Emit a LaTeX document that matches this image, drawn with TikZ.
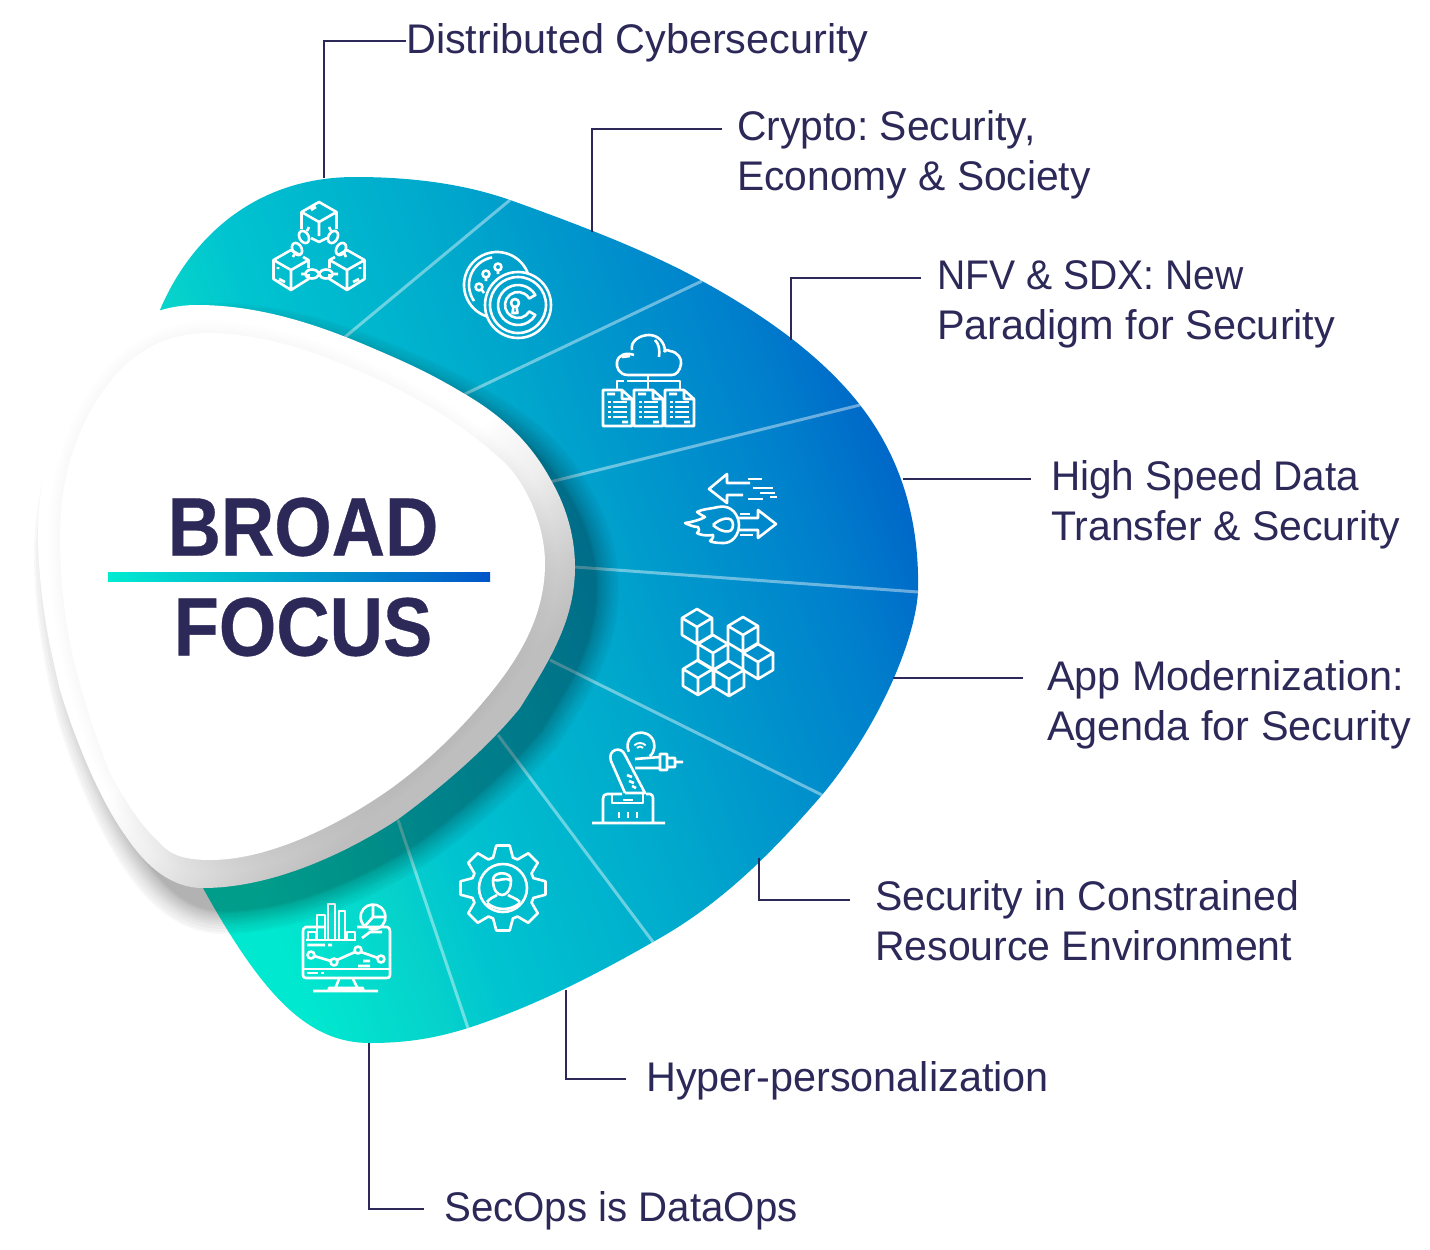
\documentclass[tikz,border=0pt]{standalone}
\usepackage{fontspec}
\frenchspacing
\setmainfont{Liberation Sans}
\newfontfamily\titlefont{Liberation Sans}[FakeStretch=0.89, FakeBold=0.4]
\newcommand{\narrowed}[2]{{\addfontfeature{FakeStretch=#1}#2}}
\definecolor{navy}{HTML}{2C2959}
\definecolor{petala}{HTML}{00E8D0}
\definecolor{petalb}{HTML}{06D2CB}
\definecolor{petalc}{HTML}{00C4D0}
\definecolor{petald}{HTML}{00A8CC}
\definecolor{petale}{HTML}{0080CC}
\definecolor{petalf}{HTML}{0064C8}
\definecolor{rima}{HTML}{EEEEEE}
\definecolor{rimb}{HTML}{CFCFCF}
\definecolor{rimc}{HTML}{BEBEBE}
\definecolor{bara}{HTML}{00EBD0}
\definecolor{barb}{HTML}{00A8CC}
\definecolor{barc}{HTML}{0055C8}
\pgfdeclarehorizontalshading{petalfill}{100bp}{color(0bp)=(petala); color(32.7bp)=(petala); color(36.8bp)=(petalb); color(39.1bp)=(petalc); color(46.2bp)=(petald); color(54.1bp)=(petale); color(58bp)=(petalf); color(100bp)=(petalf)}
\pgfdeclarehorizontalshading{rimfill}{100bp}{color(0bp)=(white); color(50.1bp)=(white); color(54.75bp)=(rima); color(59.5bp)=(rimb); color(62.6bp)=(rimc); color(100bp)=(rimc)}
\tikzstyle{lbl} = [anchor=west, inner sep=0pt, align=left, text=navy, font=\fontsize{41.4}{50}\selectfont]
\tikzstyle{title} = [inner sep=0pt, text=navy, font=\titlefont\bfseries\fontsize{83}{90}\selectfont]
\tikzstyle{link} = [draw=navy, line width=1.6pt]
\tikzstyle{seam} = [draw=white, opacity=0.42, line width=3pt]
\tikzstyle{icon} = [draw=white, line width=2.6pt, line join=round]
\def\petalpath{(160,310) .. controls (185,250) and (245,177) .. (355,177) .. controls (420,177) and (470,186) .. (510,200) .. controls (580,225) and (650,252) .. (702,281) .. controls (770,318) and (825,360) .. (860,405) .. controls (895,450) and (920,510) .. (918,592) .. controls (915,640) and (880,725) .. (822,795) .. controls (770,855) and (720,905) .. (653,942) .. controls (590,978) and (530,1008) .. (468,1028) .. controls (430,1040) and (400,1043) .. (370,1043) .. controls (310,1043) and (265,1000) .. (203,888) -- (300,600) -- cycle}
\def\rimpath{(197,305) .. controls (260,305) and (320,325) .. (377,350) .. controls (410,364) and (435,376) .. (463,393) .. controls (510,420) and (535,450) .. (552,482) .. controls (568,510) and (575,540) .. (575,567) .. controls (575,620) and (550,660) .. (520,708) .. controls (490,745) and (445,785) .. (397,820) .. controls (335,860) and (265,888) .. (203,888) .. controls (170,888) and (145,865) .. (125,835) .. controls (100,800) and (75,740) .. (60,690) .. controls (45,630) and (38,580) .. (38,530) .. controls (40,430) and (90,305) .. (197,305) -- cycle}
\def\facepath{(207,333) .. controls (250,333) and (300,346) .. (340,363) .. controls (400,387) and (460,420) .. (507,465) .. controls (530,490) and (545,530) .. (545,563) .. controls (545,610) and (525,650) .. (493,690) .. controls (465,725) and (430,760) .. (393,787) .. controls (350,818) and (275,860) .. (210,860) .. controls (185,860) and (170,855) .. (160,843) .. controls (140,825) and (125,800) .. (110,773) .. controls (95,735) and (82,695) .. (73,657) .. controls (65,620) and (60,580) .. (60,537) .. controls (60,480) and (75,420) .. (120,370) .. controls (145,345) and (175,333) .. (207,333) -- cycle}
\begin{document}
\begin{tikzpicture}[x=1pt, y=-1pt]
	\useasboundingbox (0,0) rectangle (1430,1250);
	% petals
	\begin{scope}
		\clip \petalpath;
		\shade [shading=petalfill, shading angle=20] (-35,-125) rectangle (1465,1375);
	\end{scope}
	\foreach \xa/\ya/\xb/\yb in {345/337/510/200, 463/395/702/281, 550/482/860/405, 575/567/918/592, 550/660/822/795, 498/735/653/942, 398/820/468/1028}
		\draw [seam] (\xa,\ya) -- (\xb,\yb);

	% blockchain
	\draw [icon, shift={(319,222)}] (-17.5,7) -- (-17.5,-10) -- (0,-20) -- (17.5,-10) -- (17.5,7) (-17.5,-10) -- (0,0) -- (17.5,-10) (0,0) -- (0,14) (-8,16) -- (0,20) -- (8,16) (-8,-12) -- (-3,-15);
	\foreach \cx/\s in {291/1, 347/-1}
		\draw [icon, shift={(\cx,270)}] (\s*9,-15) -- (0,-20) -- (-\s*17.5,-10) -- (-\s*17.5,9) -- (0,20) -- (\s*17.5,9) -- (\s*17.5,4) (\s*17.5,-2) -- (\s*17.5,-10) -- (\s*12,-13) (-\s*17.5,-10) -- (0,0) -- (\s*17.5,-10) (0,0) -- (0,20) (-\s*13,-1) -- (-\s*13,-3) (-\s*12,9) -- (-\s*6,12);
	\foreach \ex/\ey/\er in {312/274/0, 326/274/0, 304/237/-60, 297/249/-60, 333/237/60, 341/249/60}
		\draw [icon, rotate around={\er:(\ex,\ey)}] (\ex,\ey) ellipse (6.5pt and 4.5pt);
	\draw [icon] (301,274) -- (305,274) (333,274) -- (338,274) (309,227) -- (307,231) (293,257) -- (295,253) (329,227) -- (331,231) (346,257) -- (344,253);

	% coins
	\draw [icon] ([shift={(20:33pt)}]497,285) arc[start angle=20, end angle=252, radius=33pt];
	\draw [icon] ([shift={(100:28pt)}]497,285) arc[start angle=100, end angle=215, radius=28pt];
	\draw [icon] (518,305) circle (33pt) (518,305) circle (28pt);
	\draw [icon] ([shift={(30:20pt)}]518,305) arc[start angle=30, end angle=330, radius=20pt] -- ([shift={(330:13pt)}]518,305) arc[start angle=330, end angle=30, radius=13pt] -- cycle;
	\draw [icon] (515,303) circle (4pt) (513.5,306) -- (512.5,313) -- (517.5,313) -- (516.5,306);
	\foreach \dx/\dy in {498/267, 486/274, 479/287}
		\draw [icon] (\dx,\dy) circle (3.5pt);
	\draw [icon] (498,271) -- (498,274) (486,278) -- (486,281) (482,290) -- (484,293);

	% cloud and documents
	\draw [icon] (672,375) -- (628,375) .. controls (619,375) and (616,367) .. (617,362) .. controls (618,355) and (626,352) .. (634,355);
	\draw [icon] (632,350) .. controls (630,341) and (640,335) .. (649,335) .. controls (658,335) and (665,342) .. (665,352);
	\draw [icon] (664,352) .. controls (666,349) and (668,350) .. (670,351) .. controls (678,352) and (682,359) .. (681,364) .. controls (680,371) and (676,375) .. (672,375);
	\draw [icon] (655,340) .. controls (659,344) and (660,350) .. (659,357) (622,357) -- (630,356);
	\draw [icon] (617,389) -- (617,381) -- (624,381) (627,381) -- (680,381) -- (680,389) (648,375) -- (648,391);
	\foreach \dx in {603, 634, 665} {
		\draw [icon, shift={(\dx,0)}] (0,390) -- (19,390) -- (29,399) -- (29,426) -- (0,426) -- cycle (19,390) -- (19,399) -- (29,399) (4,394) -- (12,394) (19,422) -- (25,422);
		\foreach \ry in {402, 407, 412, 417}
			\draw [icon, line width=1.9pt, shift={(\dx,0)}] (5,\ry) -- (8,\ry) (10,\ry) -- (24,\ry);
	}

	% speed arrows
	\draw [icon] (750,483) -- (727,483) -- (727,474) -- (709,489) -- (727,503) -- (727,495) -- (743,495);
	\draw [icon] (748,479) -- (762,479) (753,488) -- (773,488) (760,493) -- (775,493) (770,497) -- (777,497) (748,499) -- (763,499);
	\draw [icon] (738,518) -- (758,518) -- (758,510) -- (776,524) -- (758,538) -- (758,530) -- (738,530);
	\draw [icon] (740,514) -- (750,514) (740,535) -- (753,535);
	\draw [icon] (718,507) .. controls (732,504) and (739,516) .. (739,525) .. controls (739,535) and (732,544) .. (722,543) .. controls (716,543) and (711,542) .. (710,541) .. controls (714,538) and (713,536) .. (713,535) .. controls (706,536) and (700,535) .. (697,533) .. controls (700,530) and (699,529) .. (698,527) .. controls (694,527) and (689,525) .. (685,523) .. controls (692,522) and (700,520) .. (705,517) .. controls (702,515) and (699,514) .. (697,512) .. controls (702,509) and (710,509) .. (718,507);
	\draw [icon] (713,525) .. controls (719,519) and (733,514) .. (733,525) .. controls (733,536) and (719,531) .. (713,525);

	% cubes
	\foreach \cx/\cy in {697/627, 713/653, 743/635, 758/662, 698/678, 729/679}
		\draw [icon, shift={(\cx,\cy)}] (0,-18) -- (15,-9) -- (15,8) -- (0,17) -- (-15,8) -- (-15,-9) -- cycle (-15,-9) -- (0,0) -- (15,-9) (0,0) -- (0,17);

	% robot arm
	\draw [icon] (592,823) -- (665,823) (603,823) -- (603,799) .. controls (603,796) and (604,794) .. (607,794) -- (622,794) (646,794) -- (650,794) .. controls (652,794) and (653,796) .. (653,798) -- (653,823);
	\draw [icon] (612,794) -- (612,803) -- (643,803) -- (643,794) (623,800) -- (633,800) (619,812) -- (619,818) (628,812) -- (628,818) (637,812) -- (637,818);
	\draw [icon] (625,793) -- (611,761) .. controls (607,750) and (621,745) .. (625,755) -- (645,793) -- (625,793);
	\draw [icon] (627,775) -- (632,777) (629,781) -- (634,783) (632,786) -- (636,788);
	\draw [icon] (635,759) -- (660,757) (635,768) -- (660,768) (660,754) rectangle (667,770) (667,758) -- (675,758) -- (675,767) -- (667,767) (675,762) -- (683,762);
	\draw [icon] ([shift={(-50:13.5pt)}]641,746) arc[start angle=-50, end angle=205, radius=13.5pt];
	\draw [icon, line width=1.9pt] ([shift={(45:8pt)}]640,751) arc[start angle=45, end angle=135, radius=8pt] ([shift={(45:4.5pt)}]640,751) arc[start angle=45, end angle=135, radius=4.5pt];

	% gear and head
	\draw [icon, shift={(503,888)}] (-18:32) \foreach \a in {0,45,...,315} { -- (\a-18:32) -- (\a-9:43) -- (\a+9:43) -- (\a+18:32) } -- cycle;
	\draw [icon] (503,888) circle (24pt);
	\draw [icon] (493,880) .. controls (493,871) and (511,871) .. (511,880) .. controls (511,900) and (493,900) .. (493,880) (493,880) .. controls (500,882) and (505,876) .. (511,881);
	\draw [icon] (487,902) .. controls (490,898) and (494,897) .. (497,895) (520,902) .. controls (516,898) and (511,897) .. (508,895) (487,903) .. controls (497,911) and (510,911) .. (520,903);

	% dashboard
	\draw [icon] (326,927) -- (306,927) .. controls (304,927) and (303,929) .. (303,931) -- (303,975) .. controls (303,977) and (304,978) .. (306,978) -- (387,978) .. controls (389,978) and (390,977) .. (390,975) -- (390,931) .. controls (390,929) and (389,927) .. (387,927) -- (357,927);
	\draw [icon] (303,969) -- (390,969) (307,973) -- (318,973) (321,973) -- (324,973);
	\draw [icon] (339,979) -- (335,989) (353,979) -- (358,989) (329,990) -- (329,988) -- (363,988) -- (363,990) (313,991) -- (378,991);
	\draw [icon, line width=2pt] (306,940) -- (356,940) (308,940) -- (308,932) -- (316,932) -- (316,940) (317,940) -- (317,915) -- (325,915) -- (325,940) (328,940) -- (328,904) -- (335,904) -- (335,940) (339,940) -- (339,911) -- (345,911) -- (345,940) (347,940) -- (347,932) -- (355,932) -- (355,940);
	\draw [icon] ([shift={(230:12.5pt)}]373,917) arc[start angle=230, end angle=-110, radius=12.5pt] (373,905) -- (373,917) -- (385,917) (373,917) -- (365,926);
	\draw [icon] (362,938) -- (370,932) -- (382,932) (307,945) -- (325,945) (328,945) -- (332,945) (363,961) -- (370,961) (358,966) -- (370,966);
	\draw [icon] (311,955) circle (3.5pt) (334,962) circle (3.5pt) (358,950) circle (3.5pt) (381,959) circle (3.5pt);
	\draw [icon] (314,956) -- (331,961) (337,960) -- (355,952) (361,952) -- (378,958);

	% label nodes
	\node (dist) [lbl] at (406,43) {Distributed Cybersecurity};
	\node (crypto) [lbl] at (737,155) {\narrowed{0.985}{Crypto: Security,}\\\narrowed{0.985}{Economy \& Society}};
	\node (nfv) [lbl] at (937,304) {\narrowed{0.945}{NFV \& SDX: New}\\Paradigm for Security};
	\node (speed) [lbl] at (1051,505) {\narrowed{0.977}{High Speed Data}\\\narrowed{0.99}{Transfer \& Security}};
	\node (appmod) [lbl] at (1047,705) {App Modernization:\\Agenda for Security};
	\node (constr) [lbl] at (875,921) {\narrowed{0.99}{Security in Constrained}\\\narrowed{0.99}{Resource Environment}};
	\node (hyper) [lbl] at (646,1081) {Hyper-personalization};
	\node (secops) [lbl] at (444,1211) {\narrowed{0.972}{SecOps is DataOps}};

	% connector feet on the petals
	\coordinate (distfoot) at (324,178);
	\coordinate (cryptofoot) at (592,232);
	\coordinate (nfvfoot) at (791,340);
	\coordinate (speedfoot) at (903,479);
	\coordinate (appfoot) at (893,678);
	\coordinate (constrfoot) at (759,858);
	\coordinate (hyperfoot) at (566,990);
	\coordinate (secfoot) at (369,1043);

	\draw [link] (distfoot) |- ([yshift=2pt]dist.west);
	\draw [link] (cryptofoot) |- ([xshift=-15pt,yshift=26pt]crypto.west);
	\draw [link] (nfvfoot) |- ([xshift=-16pt,yshift=26pt]nfv.west);
	\draw [link] (speedfoot) -- ([xshift=-20pt,yshift=26pt]speed.west);
	\draw [link] (appfoot) -- ([xshift=-24pt,yshift=27pt]appmod.west);
	\draw [link] (constrfoot) |- ([xshift=-25pt,yshift=21pt]constr.west);
	\draw [link] (hyperfoot) |- ([xshift=-20pt,yshift=2pt]hyper.west);
	\draw [link] (secfoot) |- ([xshift=-20pt,yshift=2pt]secops.west);

	% shadow, rim and face
	\foreach \e in {1,2,3,4,6,8,10,12,14,16,19,22,24} {
		\begin{scope}[transparency group, opacity=0.027]
			\draw [black, fill=black, line width=2*\e pt, line join=round, shift={(20,22)}] \rimpath;
		\end{scope}
	}
	\begin{scope}
		\clip \rimpath;
		\shade [shading=rimfill, shading angle=-45] (-93,196) rectangle (707,996);
		\foreach \r in {4,8,...,24}
			\draw [black, opacity=0.005, line width=\r pt] \facepath;
	\end{scope}
	\fill [white] \facepath;

	% centre title
	\node (broad) [title] at (303,527) {BROAD};
	\node (focus) [title] at (303,627) {FOCUS};
	\shade [left color=bara, middle color=barb, right color=barc] (108,572) rectangle (490,581);
\end{tikzpicture}
\end{document}
